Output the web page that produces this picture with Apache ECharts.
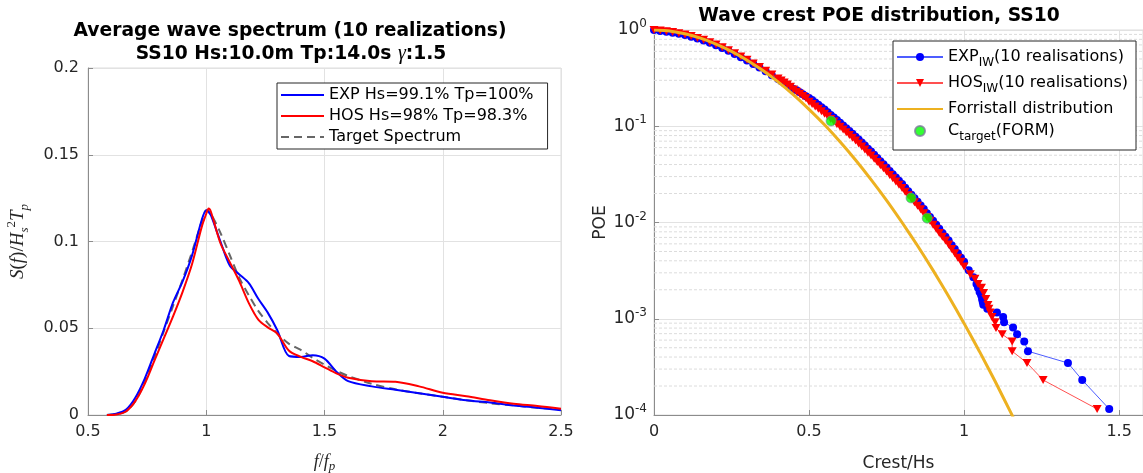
<!DOCTYPE html>
<html><head><meta charset="utf-8">
<script src="https://cdn.jsdelivr.net/npm/echarts@6/dist/echarts.min.js"></script>
<style>html,body{margin:0;padding:0;background:#fff}#c{width:1143px;height:473px}</style>
</head><body><div id="c"></div>
<script>
// ---- Left panel: average wave spectrum ----
const specFreq   = [0.58,0.62,0.66,0.70,0.74,0.78,0.82,0.86,0.90,0.94,0.98,1.00,1.01,1.02,1.06,1.10,1.14,1.18,1.22,1.26,1.30,1.35,1.40,1.45,1.50,1.55,1.60,1.70,1.80,1.90,2.00,2.10,2.20,2.30,2.40,2.50];
const specExp    = [0,0.0008,0.003,0.010,0.021,0.035,0.049,0.065,0.077,0.092,0.112,0.118,0.117,0.115,0.100,0.086,0.081,0.076,0.067,0.059,0.049,0.034,0.0335,0.0345,0.0325,0.025,0.0195,0.0165,0.0145,0.0125,0.0105,0.0085,0.0072,0.0055,0.0042,0.0028];
const specHos    = [0,0.0003,0.002,0.008,0.018,0.031,0.044,0.057,0.071,0.087,0.108,0.116,0.119,0.117,0.099,0.088,0.077,0.0645,0.055,0.0505,0.047,0.037,0.0335,0.031,0.0275,0.024,0.0215,0.0195,0.0192,0.0165,0.0128,0.0108,0.0085,0.0065,0.0052,0.0036];
const specTarget = [0,0.0005,0.002,0.008,0.019,0.033,0.048,0.063,0.078,0.094,0.111,0.118,0.1175,0.116,0.105,0.092,0.079,0.069,0.060,0.053,0.047,0.041,0.0375,0.033,0.029,0.0255,0.0225,0.018,0.0148,0.0125,0.0105,0.0085,0.0068,0.0055,0.0042,0.0032];
const specNames  = ['EXP Hs=99.1% Tp=100%','HOS Hs=98% Tp=98.3%','Target Spectrum'];

// ---- Right panel: crest POE ----
const bodyCrest = [0,0.02,0.04,0.06,0.08,0.10,0.12,0.14,0.16,0.18,0.20,0.22,0.24,0.26,0.28,0.30,0.32,0.34,0.36,0.38,0.40,
  0.41,0.42,0.43,0.44,0.45,0.46,0.47,0.48,0.49,0.50,0.51,0.52,0.53,0.54,0.55,0.56,0.57,0.58,0.59,0.60,
  0.61,0.62,0.63,0.64,0.65,0.66,0.67,0.68,0.69,0.70,0.71,0.72,0.73,0.74,0.75,0.76,0.77,0.78,0.79,0.80,
  0.81,0.82,0.83,0.84,0.85,0.86,0.87,0.88,0.89,0.90,0.91,0.92,0.93,0.94,0.95,0.96,0.97,0.98,0.99,1.00];
const expBodyPoe = [1.000,0.975,0.958,0.939,0.913,0.886,0.852,0.816,0.779,0.737,0.695,0.651,0.608,0.564,0.522,0.483,0.443,0.407,0.372,0.339,0.309,
  0.295,0.281,0.268,0.254,0.244,0.236,0.225,0.215,0.205,0.197,0.187,0.176,0.167,0.158,0.149,0.140,0.131,0.123,0.116,0.109,
  0.102,0.0953,0.0891,0.0834,0.078,0.0727,0.0676,0.063,0.0585,0.0545,0.0505,0.0468,0.0434,0.0402,0.0373,0.0343,0.0318,0.0293,0.0271,0.0251,
  0.023,0.0211,0.0194,0.0179,0.0164,0.015,0.0138,0.0125,0.0114,0.0104,0.0095,0.0086,0.0078,0.0071,0.0065,0.0058,0.0053,0.0048,0.0043,0.0039];
const hosBodyPoe = [1.000,0.989,0.973,0.953,0.927,0.899,0.865,0.828,0.791,0.748,0.706,0.661,0.617,0.573,0.530,0.490,0.450,0.413,0.378,0.344,0.314,
  0.299,0.285,0.272,0.258,0.241,0.228,0.217,0.206,0.195,0.180,0.170,0.160,0.152,0.143,0.135,0.127,0.119,0.112,0.105,0.099,
  0.0926,0.0867,0.0811,0.0758,0.071,0.0661,0.0615,0.0573,0.0532,0.0496,0.0459,0.0426,0.0394,0.0366,0.0339,0.0312,0.0289,0.0266,0.0246,0.0228,
  0.0209,0.0192,0.0177,0.0162,0.0149,0.0137,0.0125,0.0114,0.0104,0.0095,0.0086,0.0078,0.0071,0.0065,0.0059,0.0053,0.0048,0.0043,0.0039,0.0035];
const expTailCrest = [1.015,1.03,1.04,1.045,1.05,1.055,1.058,1.06,1.062,1.075,1.106,1.126,1.129,1.158,1.171,1.194,1.206,1.335,1.381,1.468];
const expTailPoe   = [0.0032,0.0027,0.0023,0.0021,0.0019,0.00175,0.0016,0.0015,0.0014,0.00127,0.00116,0.00104,0.00092,0.00081,0.00069,0.00058,0.00046,0.000347,0.000231,0.0001155];
const hosTailCrest = [1.02,1.035,1.045,1.056,1.063,1.07,1.077,1.08,1.084,1.09,1.10,1.103,1.123,1.155,1.155,1.203,1.255,1.429];
const hosTailPoe   = [0.0029,0.0026,0.0023,0.0021,0.00185,0.0016,0.00139,0.00127,0.00116,0.00104,0.00092,0.0008,0.00069,0.00058,0.00046,0.000347,0.000231,0.0001155];
const forCrest = [0,0.05,0.10,0.15,0.20,0.25,0.30,0.35,0.40,0.45,0.50,0.55,0.60,0.65,0.70,0.75,0.80,0.85,0.90,0.95,1.00,1.05,1.10,1.15,1.18];
const forPoe   = [1.0,0.976,0.913,0.823,0.715,0.600,0.486,0.381,0.289,0.212,0.150,0.1036,0.069,0.0446,0.0279,0.0170,0.0100,0.00573,0.00318,0.00171,0.000895,0.000455,0.000224,0.000107,0.000068];
const tgtCrest = [0.571,0.829,0.881];
const tgtPoe   = [0.1135,0.018,0.0111];
const poeNames = ['EXP','HOS','Forristall distribution','Ctarget'];
const minorPoe = [2e-4,3e-4,4e-4,5e-4,6e-4,7e-4,8e-4,9e-4,2e-3,3e-3,4e-3,5e-3,6e-3,7e-3,8e-3,9e-3,0.02,0.03,0.04,0.05,0.06,0.07,0.08,0.09,0.2,0.3,0.4,0.5,0.6,0.7,0.8,0.9];
const POE_XMAX = 1.577;

const zip = (a,b) => a.map((v,i)=>[v,b[i]]);
const FONT = 'DejaVu Sans';
const AX = '#8c8c8c', TXT = '#262626', GRID = '#e2e2e2';
const serif = 'Liberation Serif';

function baseAxis(extra){
  return Object.assign({
    type:'value',
    axisLine:{show:true,onZero:false,lineStyle:{color:AX,width:1}},
    axisTick:{show:true,inside:true,length:5,lineStyle:{color:AX}},
    splitLine:{show:true,lineStyle:{color:GRID,width:1}},
    axisLabel:{fontSize:16,color:TXT,fontFamily:FONT,margin:9},
    nameLocation:'middle'
  }, extra);
}

const minorSeries = minorPoe.map(v=>({
  type:'line', xAxisIndex:1, yAxisIndex:1, silent:true, symbol:'none', showSymbol:false, z:1,
  lineStyle:{color:'#dcdcdc', width:1, type:[3,2]}, data:[[0,v],[POE_XMAX,v]]
}));

const chart = echarts.init(document.getElementById('c'), null, {renderer:'canvas'});
const option = {
  animation:false,
  backgroundColor:'#fff',
  grid:[
    {left:88, right:582, top:68, bottom:58, containLabel:false, outerBoundsMode:'none', show:true, borderColor:'#dcdcdc', borderWidth:1, backgroundColor:'transparent'},
    {left:654, right:0, top:30, bottom:58, containLabel:false, outerBoundsMode:'none', show:true, borderColor:'#dcdcdc', borderWidth:1, backgroundColor:'transparent'}
  ],
  graphic:[
    {type:'text', x:290, y:31, style:{text:'Average wave spectrum (10 realizations)', font:'bold 18.7px "DejaVu Sans"', fill:'#000', align:'center', verticalAlign:'middle', textAlign:'center', textVerticalAlign:'middle'}},
    {type:'text', x:291, y:54, style:{text:'{b|SS10 Hs:10.0m Tp:14.0s }{g|γ}{b|:1.5}', align:'center', verticalAlign:'middle', textAlign:'center', textVerticalAlign:'middle',
      rich:{b:{font:'bold 18.7px "DejaVu Sans"', fill:'#000', color:'#000'}, g:{fontFamily:serif, fontStyle:'italic', fontSize:20, color:'#000', fill:'#000'}}}},
    {type:'text', x:879, y:16, style:{text:'Wave crest POE distribution, SS10', font:'bold 18.7px "DejaVu Sans"', fill:'#000', align:'center', verticalAlign:'middle', textAlign:'center', textVerticalAlign:'middle'}}
  ],
  xAxis:[
    baseAxis({gridIndex:0, min:0.5, max:2.5, interval:0.5,
      name:'{i|f}{n|/}{i|f}{s|p}', nameGap:36,
      nameTextStyle:{rich:{i:{fontFamily:serif,fontStyle:'italic',fontSize:18,color:TXT,lineHeight:22},n:{fontFamily:serif,fontSize:18,color:TXT,lineHeight:22},s:{fontFamily:serif,fontStyle:'italic',fontSize:13,color:TXT,verticalAlign:'bottom',lineHeight:22}}}}),
    baseAxis({gridIndex:1, min:0, max:POE_XMAX, interval:0.5,
      axisLabel:{fontSize:16,color:TXT,fontFamily:FONT,margin:9,formatter:v=>Math.abs(v*2-Math.round(v*2))<1e-6?String(v):''},
      name:'Crest/Hs', nameGap:40, nameTextStyle:{fontSize:17,color:TXT,fontFamily:FONT}})
  ],
  yAxis:[
    baseAxis({gridIndex:0, min:0, max:0.2, interval:0.05,
      name:'{i|S}{n|(}{i|f}{n|)/}{i|H}{s|s}{u|2}{i|T}{s|p}', nameGap:57, nameRotate:90,
      nameTextStyle:{rich:{i:{fontFamily:serif,fontStyle:'italic',fontSize:19,color:TXT,lineHeight:26},n:{fontFamily:serif,fontSize:19,color:TXT,lineHeight:26},
        s:{fontFamily:serif,fontStyle:'italic',fontSize:13,color:TXT,verticalAlign:'bottom',lineHeight:26},
        u:{fontFamily:serif,fontSize:13,color:TXT,verticalAlign:'top',lineHeight:26}}}}),
    baseAxis({gridIndex:1, type:'log', logBase:10, min:0.0001, max:1,
      axisLabel:{color:TXT,margin:7,fontFamily:FONT,
        formatter:v=>'{b|10}{s|'+Math.round(Math.log10(v))+'}',
        rich:{b:{fontSize:17,fontFamily:FONT,color:TXT,lineHeight:24},s:{fontSize:12,fontFamily:FONT,color:TXT,verticalAlign:'top',lineHeight:24}}},
      name:'POE', nameGap:42, nameRotate:90, nameTextStyle:{fontSize:17,color:TXT,fontFamily:FONT}})
  ],
  legend:[
    {left:277, top:83, orient:'vertical', itemWidth:43, itemHeight:12, itemGap:3, z:20,
     padding:[3,14,3,3], borderColor:'#262626', borderWidth:1, backgroundColor:'#fff',
     textStyle:{fontSize:16,fontFamily:FONT,color:'#000',lineHeight:18},
     data:specNames.map(n=>({name:n, itemStyle:{opacity:0}}))},
    {left:893, top:41, orient:'vertical', itemWidth:46, itemHeight:10, itemGap:6, z:20,
     padding:[8,8,7,3], borderColor:'#262626', borderWidth:1, backgroundColor:'#fff',
     textStyle:{fontSize:16,fontFamily:FONT,color:'#000',
       rich:{a:{fontSize:16,fontFamily:FONT,color:'#000',lineHeight:24},s:{fontSize:12,fontFamily:FONT,color:'#000',verticalAlign:'bottom',lineHeight:24}}},
     formatter:n=>{
       if(n==='EXP') return '{a|EXP}{s|IW}{a|(10 realisations)}';
       if(n==='HOS') return '{a|HOS}{s|IW}{a|(10 realisations)}';
       if(n==='Ctarget') return '{a|C}{s|target}{a|(FORM)}';
       return '{a|'+n+'}';
     },
     data:[
       {name:'EXP', itemStyle:{color:'#0000ff', borderWidth:0}},
       {name:'HOS', itemStyle:{color:'#ff0000', borderWidth:0}},
       {name:'Forristall distribution', itemStyle:{opacity:0}},
       {name:'Ctarget'}
     ]}
  ],
  series:[
    {name:specNames[2], type:'line', xAxisIndex:0, yAxisIndex:0, smooth:0.3, showSymbol:false, symbol:'none',
     lineStyle:{color:'#666666', width:2, type:[8,5]}, itemStyle:{color:'#666666'}, data:zip(specFreq,specTarget)},
    {name:specNames[0], type:'line', xAxisIndex:0, yAxisIndex:0, smooth:0.3, showSymbol:false, symbol:'none',
     lineStyle:{color:'#0000ff', width:2}, itemStyle:{color:'#0000ff'}, data:zip(specFreq,specExp)},
    {name:specNames[1], type:'line', xAxisIndex:0, yAxisIndex:0, smooth:0.3, showSymbol:false, symbol:'none',
     lineStyle:{color:'#ff0000', width:2}, itemStyle:{color:'#ff0000'}, data:zip(specFreq,specHos)},
    ...minorSeries,
    {name:'EXP', type:'line', xAxisIndex:1, yAxisIndex:1, symbol:'circle', symbolSize:8, showAllSymbol:true, z:3,
     lineStyle:{color:'#4d5dff', width:1}, itemStyle:{color:'#0000ff', borderWidth:0},
     data:zip(bodyCrest.concat(expTailCrest), expBodyPoe.concat(expTailPoe))},
    {name:'HOS', type:'line', xAxisIndex:1, yAxisIndex:1, symbol:'path://M0,0 L10,0 L5,9 Z', symbolSize:[9,8], showAllSymbol:true, z:4,
     lineStyle:{color:'#ff5050', width:1}, itemStyle:{color:'#ff0000', borderWidth:0},
     data:zip(bodyCrest.concat(hosTailCrest), hosBodyPoe.concat(hosTailPoe))},
    {name:'Forristall distribution', type:'line', xAxisIndex:1, yAxisIndex:1, smooth:0.2, showSymbol:false, symbol:'none', z:5,
     lineStyle:{color:'#edb120', width:3}, itemStyle:{color:'#edb120'}, data:zip(forCrest,forPoe)},
    {name:'Ctarget', type:'scatter', xAxisIndex:1, yAxisIndex:1, symbol:'circle', symbolSize:10, z:6,
     itemStyle:{color:'#00ff00', borderColor:'#7a7a9a', borderWidth:0.8}, data:zip(tgtCrest,tgtPoe)}
  ]
};
chart.setOption(option);
</script>
</body></html>
